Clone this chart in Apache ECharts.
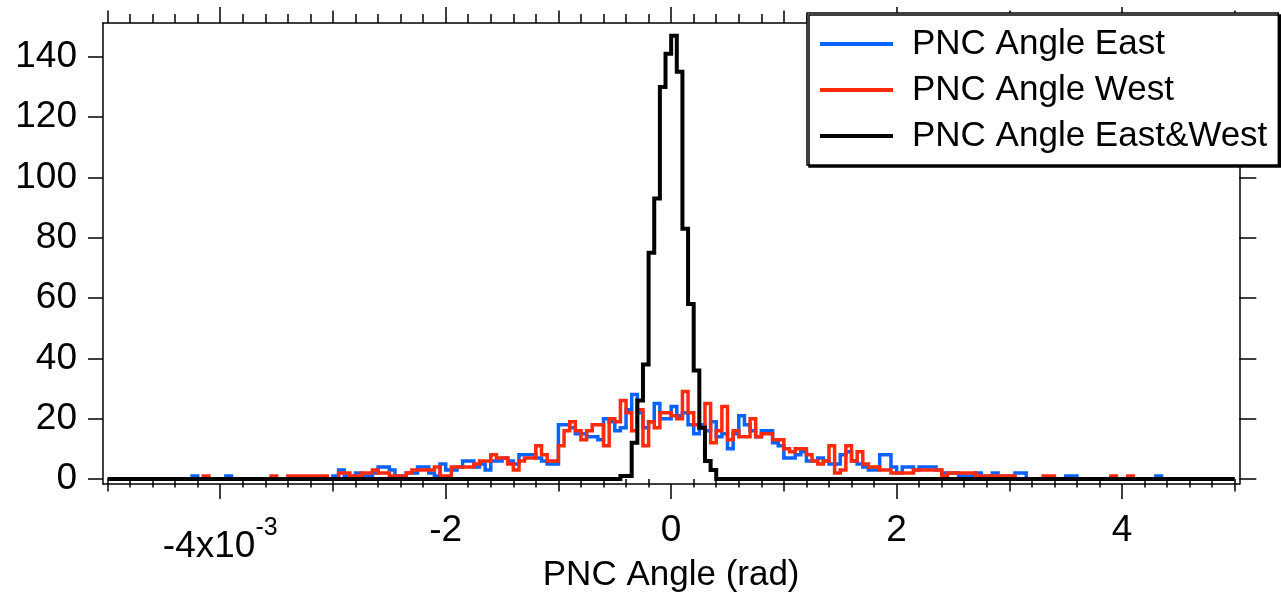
<!DOCTYPE html>
<html>
<head>
<meta charset="utf-8">
<script src="https://cdn.jsdelivr.net/npm/echarts@6/dist/echarts.min.js"></script>
<style>
  html, body { margin: 0; padding: 0; background: #fff; }
  #chart { width: 1281px; height: 596px; }
</style>
</head>
<body>
<div id="chart"></div>
<script>
(function(){

    // x values are in units of 10^-3 rad, bins are 0.05 wide
    var BIN_WIDTH = 0.05;
    var SIDE_START = -4.4;   // first bin edge for East / West
    var BOTH_START = -0.45;  // first non-empty bin edge for East&West
    var X_MIN = -5, X_MAX = 5;

    var NAME_EAST = 'PNC Angle East';
    var NAME_WEST = 'PNC Angle West';
    var NAME_BOTH = 'PNC Angle East&West';

    var eastCounts = [
        0, 0, 0, 1, 0, 0, 0, 0, 0, 1,
        0, 0, 0, 0, 0, 0, 0, 0, 0, 0,
        0, 0, 0, 0, 0, 0, 0, 0, 1, 3,
        1, 1, 2, 1, 1, 2, 4, 4, 3, 1,
        1, 2, 2, 4, 4, 2, 1, 5, 3, 3,
        4, 6, 6, 4, 5, 3, 6, 6, 7, 6,
        5, 8, 8, 8, 7, 6, 5, 5, 18, 18,
        17, 15, 15, 14, 14, 13, 20, 19, 16, 17,
        23, 28, 22, 17, 19, 25, 20, 20, 24, 21,
        22, 18, 15, 18, 16, 19, 14, 15, 10, 15,
        21, 18, 16, 14, 16, 16, 12, 11, 7, 7,
        8, 9, 6, 6, 7, 6, 5, 5, 8, 9,
        6, 5, 4, 3, 3, 8, 8, 4, 2, 4,
        4, 3, 4, 4, 4, 3, 2, 2, 2, 1,
        1, 1, 2, 1, 1, 2, 1, 1, 1, 2,
        2, 0, 0, 0, 0, 0, 0, 0, 1, 1,
        0, 0, 0, 0, 0, 0, 0, 0, 0, 0,
        0, 0, 0, 0, 1, 0
    ];

    var westCounts = [
        0, 0, 0, 0, 0, 1, 0, 0, 0, 0,
        0, 0, 0, 0, 0, 0, 0, 1, 0, 0,
        1, 1, 1, 1, 1, 1, 1, 0, 0, 2,
        2, 1, 1, 2, 2, 3, 2, 2, 1, 1,
        1, 2, 3, 3, 3, 3, 4, 1, 1, 4,
        4, 4, 4, 5, 6, 6, 8, 7, 7, 5,
        3, 6, 7, 7, 11, 8, 6, 6, 11, 16,
        19, 16, 13, 16, 18, 18, 11, 20, 19, 26,
        22, 16, 23, 11, 19, 17, 22, 22, 21, 20,
        29, 22, 18, 17, 25, 12, 16, 24, 13, 16,
        14, 14, 20, 14, 15, 15, 13, 13, 10, 9,
        10, 10, 8, 6, 5, 6, 11, 2, 3, 11,
        6, 9, 5, 4, 4, 3, 3, 2, 2, 2,
        2, 3, 3, 3, 3, 3, 1, 2, 2, 2,
        2, 2, 1, 1, 1, 1, 1, 1, 1, 0,
        0, 0, 0, 0, 1, 1, 0, 0, 0, 0,
        0, 0, 0, 0, 0, 0, 1, 0, 0, 1,
        0, 0, 0, 0, 0, 0
    ];

    var bothCounts = [1, 1, 12, 26, 38, 75, 93, 130, 141, 147, 135, 83, 58, 36, 17, 6, 3, 0];

    var yTicks = [0, 20, 40, 60, 80, 100, 120, 140];
    var xMajorTicks = [-4, -2, 0, 2, 4];
    var xMidTicks = [-5, -3, -1, 1, 3, 5];

    var FONT = '"Liberation Sans", Arial, sans-serif';
    var AXIS_COLOR = '#000';

    function minorTicks(){
        var d = [];
        for(var i = -25; i <= 25; i++){
            if(i % 5 !== 0){
                d.push(Math.round(i * 2) / 10);
            }
        }
        return d;
    }

    function steps(start, counts){
        var d = [];
        for(var i = 0; i < counts.length; i++){
            d.push([+(start + i * BIN_WIDTH).toFixed(3), counts[i]]);
        }
        d.push([+(start + counts.length * BIN_WIDTH).toFixed(3), counts[counts.length - 1]]);
        return d;
    }

    var gridBox = {
        left: 103, top: 23, width: 1136.3, height: 461,
        outerBoundsMode: 'none', containLabel: false
    };

    function tickAxis(gridIndex, position, values, len, extra){
        var ax = {
            type: 'value',
            gridIndex: gridIndex,
            position: position,
            min: -5.04, max: 5.04,
            axisLine: { show: false },
            axisTick: {
                show: true, inside: false, length: len, customValues: values,
                lineStyle: { color: AXIS_COLOR, width: 1.5 }
            },
            axisLabel: { show: false },
            splitLine: { show: false }
        };
        for(var k in extra){ ax[k] = extra[k]; }
        return ax;
    }

    function hiddenY(gridIndex){
        return {
            type: 'value', gridIndex: gridIndex, min: -1.66, max: 151.2,
            axisLine: { show: false }, axisTick: { show: false },
            axisLabel: { show: false }, splitLine: { show: false }
        };
    }

    function lineSeries(name, color, width, data){
        return {
            name: name,
            type: 'line',
            xAxisIndex: 0,
            yAxisIndex: 0,
            step: 'end',
            showSymbol: false,
            symbol: 'none',
            data: data,
            color: color,
            lineStyle: { color: color, width: width, join: 'miter', cap: 'butt' },
            emphasis: { disabled: true },
            animation: false
        };
    }

    var bothData = [[X_MIN, 0]].concat(steps(BOTH_START, bothCounts), [[X_MAX, 0]]);

    var labelRich = {
        n: { fontSize: 37, lineHeight: 37, fontFamily: FONT, color: '#000', verticalAlign: 'top' },
        b: { fontSize: 37, lineHeight: 37, fontFamily: FONT, color: '#000', verticalAlign: 'top', padding: [16, 0, 0, 0] },
        s: { fontSize: 25, lineHeight: 25, fontFamily: FONT, color: '#000', verticalAlign: 'top', padding: [4, 0, 0, 0] }
    };

    var option = {
        backgroundColor: '#fff',
        animation: false,
        grid: [gridBox, gridBox, gridBox],
        legend: {
            data: [NAME_EAST, NAME_WEST, NAME_BOTH],
            orient: 'vertical',
            left: 807,
            top: 13,
            padding: [11, 11, 9, 13],
            itemWidth: 73,
            itemHeight: 4,
            itemGap: 6,
            icon: 'rect',
            backgroundColor: '#fff',
            borderColor: '#000',
            borderWidth: 1.5,
            borderRadius: 0,
            shadowColor: '#000',
            shadowBlur: 0,
            shadowOffsetX: 2,
            shadowOffsetY: 2,
            selectedMode: false,
            textStyle: {
                fontSize: 35, lineHeight: 40, fontFamily: FONT, color: '#000',
                padding: [0, 0, 0, 14]
            }
        },
        xAxis: [
            {
                type: 'value',
                gridIndex: 0,
                position: 'bottom',
                min: -5.04, max: 5.04,
                name: 'PNC Angle (rad)',
                nameLocation: 'middle',
                nameGap: 74,
                nameMoveOverlap: false,
                nameTextStyle: { fontSize: 35, lineHeight: 35, fontFamily: FONT, color: '#000', verticalAlign: 'top' },
                axisLine: { show: true, onZero: false, lineStyle: { color: AXIS_COLOR, width: 1.5 } },
                axisTick: {
                    show: true, inside: false, length: 15, customValues: xMajorTicks,
                    lineStyle: { color: AXIS_COLOR, width: 1.5 }
                },
                axisLabel: {
                    show: true, customValues: xMajorTicks, margin: 28,
                    verticalAlign: 'top',
                    formatter: function(v){
                        if(v === -4){ return '{b|-4x10}{s|-3}'; }
                        return '{n|' + v + '}';
                    },
                    rich: labelRich
                },
                splitLine: { show: false }
            },
            tickAxis(0, 'top', xMajorTicks, 16, {
                axisLine: { show: true, onZero: false, lineStyle: { color: AXIS_COLOR, width: 1.5 } }
            }),
            tickAxis(1, 'bottom', xMidTicks, 12.5),
            tickAxis(1, 'top', xMidTicks, 12.5),
            tickAxis(2, 'bottom', minorTicks(), 8.5),
            tickAxis(2, 'top', minorTicks(), 9)
        ],
        yAxis: [
            {
                type: 'value',
                gridIndex: 0,
                position: 'left',
                min: -1.66, max: 151.2,
                axisLine: { show: true, onZero: false, lineStyle: { color: AXIS_COLOR, width: 1.5 } },
                axisTick: {
                    show: true, inside: false, length: 15, customValues: yTicks,
                    lineStyle: { color: AXIS_COLOR, width: 1.5 }
                },
                axisLabel: {
                    show: true, customValues: yTicks, margin: 26,
                    fontSize: 37, fontFamily: FONT, color: '#000'
                },
                splitLine: { show: false }
            },
            {
                type: 'value',
                gridIndex: 0,
                position: 'right',
                min: -1.66, max: 151.2,
                axisLine: { show: true, onZero: false, lineStyle: { color: AXIS_COLOR, width: 1.5 } },
                axisTick: {
                    show: true, inside: false, length: 17, customValues: yTicks,
                    lineStyle: { color: AXIS_COLOR, width: 1.5 }
                },
                axisLabel: { show: false },
                splitLine: { show: false }
            },
            hiddenY(1),
            hiddenY(2)
        ],
        series: [
            lineSeries(NAME_EAST, '#0a62ff', 3.5, steps(SIDE_START, eastCounts)),
            lineSeries(NAME_WEST, '#ff2a0c', 3.5, steps(SIDE_START, westCounts)),
            lineSeries(NAME_BOTH, '#000000', 4, bothData)
        ]
    };

    var chart = echarts.init(document.getElementById('chart'), null, { renderer: 'canvas' });
    chart.setOption(option);

})();
</script>
</body>
</html>
